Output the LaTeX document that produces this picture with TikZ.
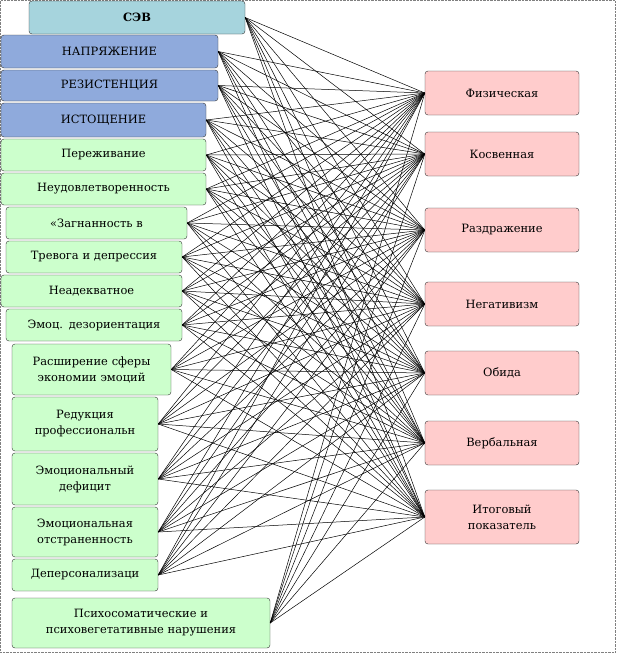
\documentclass[tikz,border=0pt]{standalone}
\usepackage{fontspec}
\setmainfont{DejaVu Serif}[Scale=0.88]
\begin{document}
\begin{tikzpicture}[x=1pt,y=-1pt,
  bx/.style={draw=black!80,rounded corners=3pt,inner sep=1pt,align=center,font=\fontsize{13}{16}\selectfont},
  sev/.style={bx,fill={rgb,255:red,166;green,212;blue,221}},
  blu/.style={bx,fill={rgb,255:red,143;green,170;blue,220}},
  grn/.style={bx,fill={rgb,255:red,204;green,255;blue,204}},
  pnk/.style={bx,fill={rgb,255:red,255;green,204;blue,204}},
  ln/.style={black,line width=0.5pt}]
\useasboundingbox (0,0) rectangle (624,667);
\draw[densely dotted,gray] (0.5,0.5) rectangle (615,652);
\foreach \n/\s/\xa/\ya/\xb/\yb/\t in {
 L1/sev/29/1/245/34/{\textbf{СЭВ}},
 L2/blu/1/35/218/68/НАПРЯЖЕНИЕ,
 L3/blu/1/70/218/101/РЕЗИСТЕНЦИЯ,
 L4/blu/1/103/206/137/ИСТОЩЕНИЕ,
 L5/grn/1/139/206/171/Переживание,
 L6/grn/1/173/206/205/Неудовлетворенность,
 L7/grn/6/207/187/239/«Загнанность в,
 L8/grn/6/241/182/273/Тревога и депрессия,
 L9/grn/1/275/182/307/Неадекватное,
 L10/grn/6/309/182/341/Эмоц. дезориентация,
 L11/grn/12/344/171/395/{Расширение сферы\\экономии эмоций},
 L12/grn/12/397/158/451/{Редукция\\профессиональн},
 L13/grn/12/453/158/505/{Эмоциональный\\дефицит},
 L14/grn/12/507/158/557/{Эмоциональная\\отстраненность},
 L15/grn/12/559/158/591/Деперсонализаци,
 L16/grn/12/598/270/648/{Психосоматические и\\психовегетативные нарушения},
 R1/pnk/425/71/579/115/Физическая,
 R2/pnk/425/132/579/176/Косвенная,
 R3/pnk/425/208/579/252/Раздражение,
 R4/pnk/425/282/579/326/Негативизм,
 R5/pnk/425/351/579/395/Обида,
 R6/pnk/425/421/579/465/Вербальная,
 R7/pnk/425/490/579/544/{Итоговый\\показатель}}
 {\node[\s,minimum width={\xb-\xa},minimum height={\yb-\ya},text width={\xb-\xa-6}] (\n) at ({(\xa+\xb)/2},{(\ya+\yb)/2}) {\t};}
\foreach \i in {1,...,16}
 \foreach \j in {1,...,7}
  \draw[ln] (L\i.east) -- (R\j.west);
\end{tikzpicture}
\end{document}
